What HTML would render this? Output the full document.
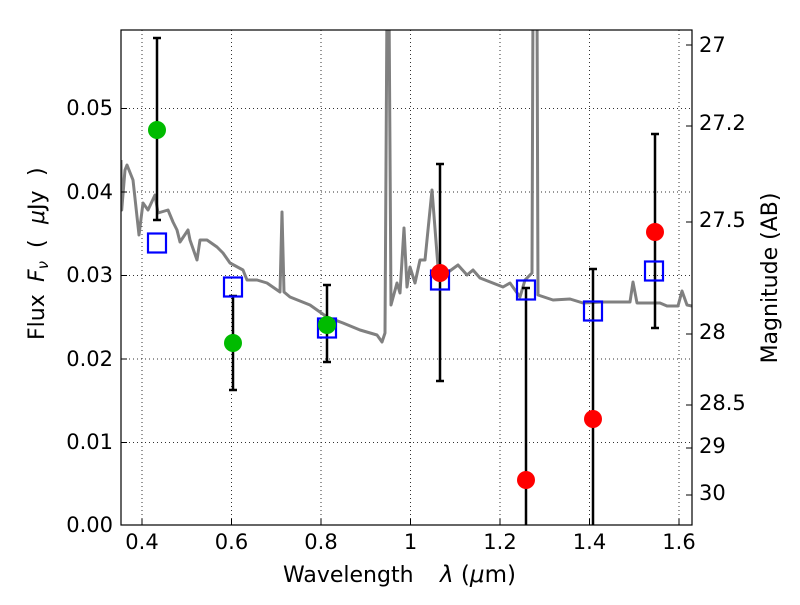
<!DOCTYPE html>
<html><head><meta charset="utf-8"><style>body{margin:0;background:#fff}</style></head><body>
<svg width="800" height="600" xmlns="http://www.w3.org/2000/svg" font-family="'DejaVu Sans','Liberation Sans',sans-serif">
<rect width="800" height="600" fill="#fff"/>
<g stroke="#000" stroke-width="1" stroke-dasharray="1,3" opacity="0.8">
<line x1="142" y1="30" x2="142" y2="525"/><line x1="231.5" y1="30" x2="231.5" y2="525"/><line x1="321" y1="30" x2="321" y2="525"/><line x1="410.5" y1="30" x2="410.5" y2="525"/><line x1="500" y1="30" x2="500" y2="525"/><line x1="589.5" y1="30" x2="589.5" y2="525"/><line x1="679" y1="30" x2="679" y2="525"/>
<line x1="121" y1="108.5" x2="692" y2="108.5"/><line x1="121" y1="192" x2="692" y2="192"/><line x1="121" y1="275.5" x2="692" y2="275.5"/><line x1="121" y1="359" x2="692" y2="359"/><line x1="121" y1="442.5" x2="692" y2="442.5"/>
</g>
<svg x="121" y="30" width="571" height="495" overflow="hidden"><g transform="translate(-121,-30)">
<polyline fill="none" stroke="#808080" stroke-width="3" stroke-linejoin="round" points="121,160 121.7,210 125,170 127,165 133,180 139,235 143,203 148,210 155,195 158,213 168,210 173,222 177,230 180,242 188,230 190,240 197,260 200,240 207,240 217,247 223,253 230,263 243,270 247,280 257,280 267,283 280,292 282,212 284,292 290,297 310,305 327,317 343,323 360,330 377,335 382,342 385,333 387,0 389,0 391,305 397,283 400,293 404,228 407,287 410,267 415,283 420,260 425,260 432,190 438,267 447,273 458,265 467,275 473,270 480,278 503,287 510,283 520,297 525,280 532,273 533,0 537,0 538,295 553,300 570,299 583,303 603,302 630,302 633,282 637,303 660,303 667,306 678,306 682,291 687,305 692,306"/>
<g stroke="#000" stroke-width="2.5">
<line x1="157" y1="38" x2="157" y2="220"/><line x1="153" y1="38" x2="161" y2="38"/><line x1="153" y1="220" x2="161" y2="220"/>
<line x1="233" y1="296" x2="233" y2="390"/><line x1="229" y1="296" x2="237" y2="296"/><line x1="229" y1="390" x2="237" y2="390"/>
<line x1="327" y1="285" x2="327" y2="362"/><line x1="323" y1="285" x2="331" y2="285"/><line x1="323" y1="362" x2="331" y2="362"/>
<line x1="440" y1="164" x2="440" y2="381"/><line x1="436" y1="164" x2="444" y2="164"/><line x1="436" y1="381" x2="444" y2="381"/>
<line x1="526" y1="288" x2="526" y2="530"/><line x1="522" y1="288" x2="530" y2="288"/>
<line x1="593" y1="269" x2="593" y2="530"/><line x1="589" y1="269" x2="597" y2="269"/>
<line x1="655" y1="134" x2="655" y2="328"/><line x1="651" y1="134" x2="659" y2="134"/><line x1="651" y1="328" x2="659" y2="328"/>
</g>
<g fill="none" stroke="#0000ff" stroke-width="2.2">
<rect x="148" y="233.5" width="18" height="19"/><rect x="224" y="277.5" width="18" height="19"/><rect x="318" y="318.5" width="18" height="19"/><rect x="431" y="270.5" width="18" height="19"/><rect x="517" y="280.5" width="18" height="19"/><rect x="584" y="301.5" width="18" height="19"/><rect x="645" y="261.5" width="18" height="19"/>
</g>
<g fill="#00bb00"><circle cx="157" cy="130" r="9"/><circle cx="233" cy="343" r="9"/><circle cx="327" cy="325" r="9"/></g>
<g fill="#ff0000"><circle cx="440" cy="273" r="9"/><circle cx="526" cy="480" r="9"/><circle cx="593" cy="419" r="9"/><circle cx="655" cy="232" r="9"/></g>
</g></svg>
<rect x="121" y="30" width="571" height="495" fill="none" stroke="#000" stroke-width="1.2"/>
<g stroke="#000" stroke-width="1">
<line x1="142" y1="525" x2="142" y2="519"/><line x1="231.5" y1="525" x2="231.5" y2="519"/><line x1="321" y1="525" x2="321" y2="519"/><line x1="410.5" y1="525" x2="410.5" y2="519"/><line x1="500" y1="525" x2="500" y2="519"/><line x1="589.5" y1="525" x2="589.5" y2="519"/><line x1="679" y1="525" x2="679" y2="519"/>
<line x1="121" y1="108.5" x2="127" y2="108.5"/><line x1="121" y1="192" x2="127" y2="192"/><line x1="121" y1="275.5" x2="127" y2="275.5"/><line x1="121" y1="359" x2="127" y2="359"/><line x1="121" y1="442.5" x2="127" y2="442.5"/>
<line x1="692" y1="45" x2="686" y2="45"/><line x1="692" y1="126" x2="686" y2="126"/><line x1="692" y1="222" x2="686" y2="222"/><line x1="692" y1="334" x2="686" y2="334"/><line x1="692" y1="405" x2="686" y2="405"/><line x1="692" y1="448" x2="686" y2="448"/><line x1="692" y1="495" x2="686" y2="495"/>
</g>
<g font-size="21" fill="#000" text-anchor="middle">
<text x="142" y="549">0.4</text><text x="231.5" y="549">0.6</text><text x="321" y="549">0.8</text><text x="410.5" y="549">1</text><text x="500" y="549">1.2</text><text x="589.5" y="549">1.4</text><text x="679" y="549">1.6</text>
</g>
<g font-size="21" fill="#000" text-anchor="end">
<text x="113" y="115">0.05</text><text x="113" y="199">0.04</text><text x="113" y="282">0.03</text><text x="113" y="366">0.02</text><text x="113" y="449">0.01</text><text x="113" y="532">0.00</text>
</g>
<g font-size="21" fill="#000">
<text x="699" y="52">27</text><text x="699" y="130">27.2</text><text x="699" y="227">27.5</text><text x="699" y="339">28</text><text x="699" y="410">28.5</text><text x="699" y="453">29</text><text x="699" y="500">30</text>
</g>
<text x="283" y="582" font-size="22">Wavelength</text>
<text x="440" y="582" font-size="23"><tspan font-style="italic">λ</tspan> (<tspan font-style="italic">μ</tspan>m)</text>
<g transform="translate(44,340) rotate(-90)" font-size="22">
<text x="0" y="0">Flux</text>
<text x="58" y="0"><tspan font-style="italic">F</tspan><tspan font-style="italic" font-size="15" dy="4">ν</tspan></text>
<text x="92" y="0">(</text>
<text x="116" y="0"><tspan font-style="italic">μ</tspan>Jy</text>
<text x="164" y="0">)</text>
</g>
<text transform="translate(777,278) rotate(-90)" font-size="22" text-anchor="middle">Magnitude (AB)</text>
</svg>
</body></html>
